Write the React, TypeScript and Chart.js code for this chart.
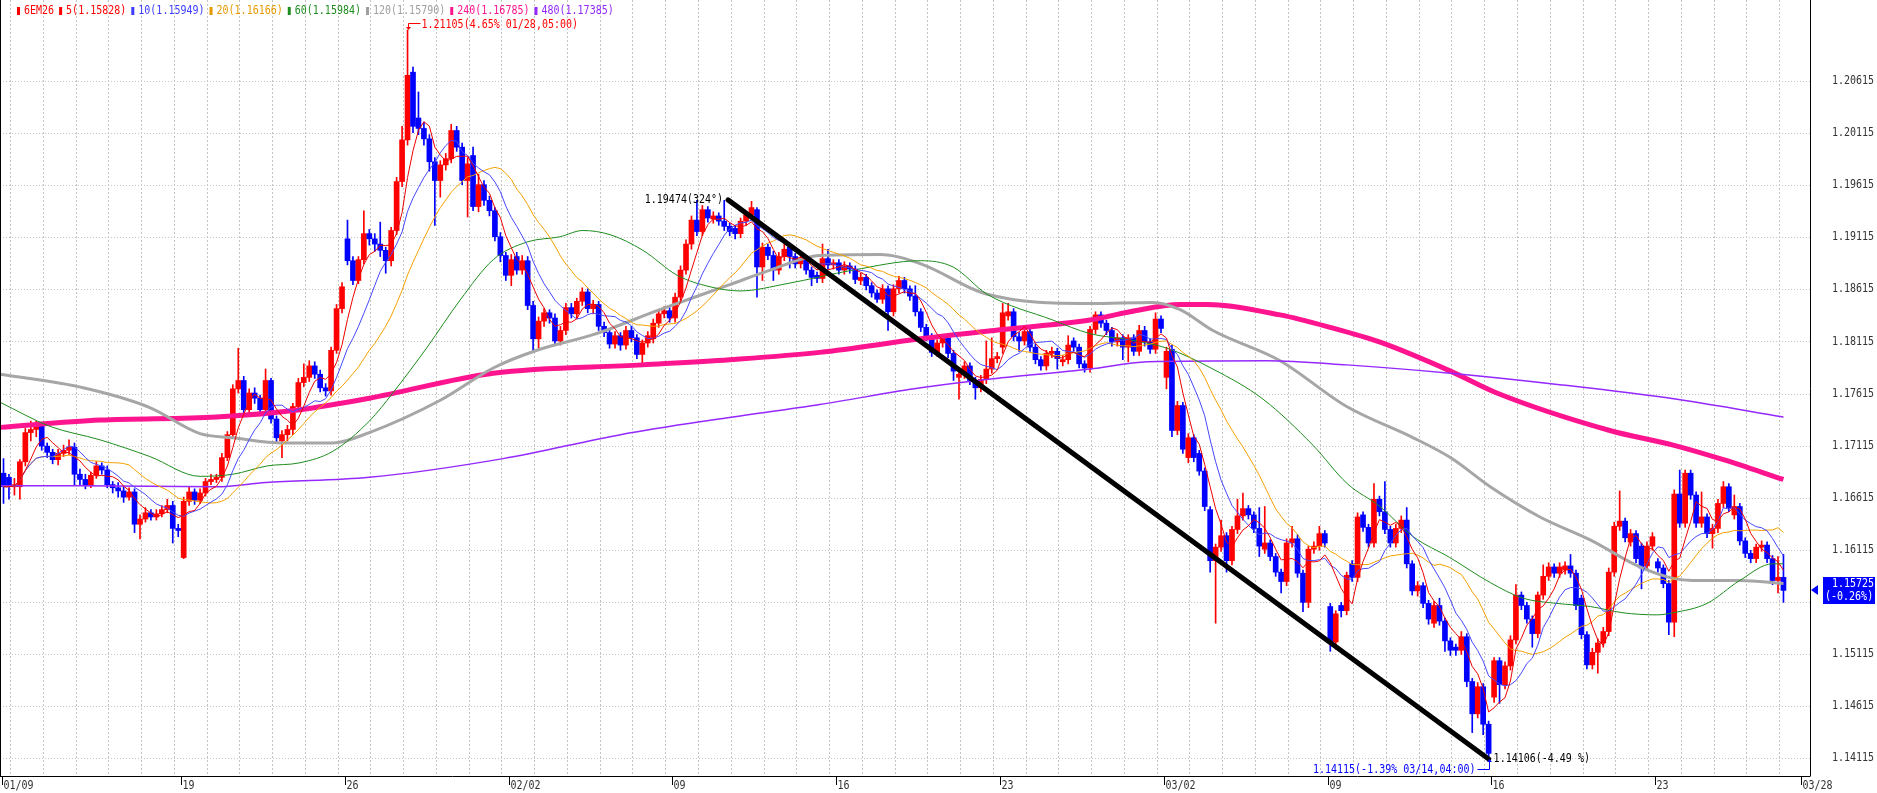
import { useEffect, useRef } from "react";
import { Chart, registerables } from "chart.js";
Chart.register(...registerables);

// ---------- DATA ----------
const symbol = "6EM26";

// 4-hour candles: [open, high, low, close]
const ohlc: [number, number, number, number][] = [
  [1.1685,1.1699,1.1656,1.1672],[1.1681,1.1684,1.1660,1.1672],[1.1672,1.1680,1.1664,1.1674],[1.1672,1.1698,1.1660,1.1696],[1.1696,1.1728,1.1692,1.1724],
  [1.1724,1.1735,1.1716,1.1727],[1.1727,1.1735,1.1720,1.1730],[1.1730,1.1734,1.1707,1.1711],[1.1711,1.1714,1.1700,1.1705],[1.1705,1.1708,1.1694,1.1698],
  [1.1698,1.1708,1.1693,1.1704],[1.1704,1.1712,1.1701,1.1707],[1.1707,1.1717,1.1703,1.1710],[1.1710,1.1714,1.1673,1.1684],[1.1684,1.1689,1.1674,1.1679],
  [1.1679,1.1684,1.1670,1.1673],[1.1673,1.1686,1.1671,1.1683],[1.1683,1.1696,1.1680,1.1692],[1.1692,1.1695,1.1684,1.1688],[1.1688,1.1692,1.1671,1.1674],
  [1.1674,1.1677,1.1666,1.1671],[1.1671,1.1676,1.1662,1.1668],[1.1668,1.1672,1.1657,1.1662],[1.1662,1.1671,1.1659,1.1667],[1.1667,1.1670,1.1628,1.1636],
  [1.1636,1.1645,1.1622,1.1641],[1.1641,1.1652,1.1638,1.1647],[1.1647,1.1650,1.1640,1.1643],[1.1643,1.1650,1.1640,1.1646],[1.1646,1.1654,1.1643,1.1650],
  [1.1650,1.1660,1.1647,1.1654],[1.1654,1.1658,1.1618,1.1632],[1.1632,1.1636,1.1624,1.1630],[1.1604,1.1662,1.1603,1.1658],[1.1658,1.1672,1.1654,1.1667],
  [1.1667,1.1670,1.1655,1.1659],[1.1659,1.1670,1.1656,1.1666],[1.1666,1.1680,1.1663,1.1677],[1.1677,1.1684,1.1674,1.1679],[1.1679,1.1684,1.1676,1.1681],
  [1.1681,1.1704,1.1677,1.1700],[1.1700,1.1725,1.1697,1.1722],[1.1722,1.1770,1.1720,1.1766],[1.1766,1.1805,1.1762,1.1774],[1.1774,1.1778,1.1742,1.1746],
  [1.1746,1.1766,1.1742,1.1762],[1.1762,1.1767,1.1752,1.1757],[1.1757,1.1760,1.1742,1.1746],[1.1746,1.1785,1.1744,1.1774],[1.1774,1.1776,1.1733,1.1737],
  [1.1737,1.1740,1.1715,1.1719],[1.1716,1.1726,1.1700,1.1722],[1.1722,1.1731,1.1716,1.1727],[1.1727,1.1752,1.1722,1.1749],[1.1749,1.1776,1.1745,1.1772],
  [1.1772,1.1790,1.1768,1.1777],[1.1777,1.1793,1.1773,1.1788],[1.1788,1.1792,1.1776,1.1780],[1.1780,1.1784,1.1763,1.1767],[1.1767,1.1771,1.1759,1.1764],
  [1.1764,1.1806,1.1760,1.1803],[1.1803,1.1847,1.1800,1.1843],[1.1843,1.1868,1.1839,1.1864],[1.1910,1.1928,1.1885,1.1889],[1.1889,1.1893,1.1866,1.1870],
  [1.1870,1.1893,1.1867,1.1890],[1.1890,1.1937,1.1886,1.1915],[1.1915,1.1919,1.1904,1.1910],[1.1910,1.1915,1.1898,1.1905],[1.1905,1.1926,1.1893,1.1899],
  [1.1899,1.1902,1.1877,1.1889],[1.1889,1.1921,1.1884,1.1918],[1.1918,1.1969,1.1914,1.1965],[1.1965,1.2018,1.1960,1.2005],[1.2005,1.21105,1.2000,1.2067],
  [1.2070,1.2075,1.2012,1.2018],[1.2026,1.2051,1.2010,1.2016],[1.2016,1.2022,1.2000,1.2006],[1.2006,1.2010,1.1975,1.1984],[1.1984,1.1988,1.1923,1.1966],
  [1.1966,1.1985,1.1950,1.1981],[1.1981,1.1992,1.1976,1.1987],[1.1987,1.2020,1.1983,1.2014],[1.2014,1.2018,1.1994,1.1998],[1.1998,1.2002,1.1962,1.1966],
  [1.1966,1.1988,1.1931,1.1982],[1.1990,1.1998,1.1937,1.1941],[1.1941,1.1972,1.1936,1.1962],[1.1962,1.1966,1.1942,1.1947],[1.1947,1.1951,1.1932,1.1937],
  [1.1937,1.1940,1.1908,1.1912],[1.1912,1.1916,1.1888,1.1894],[1.1894,1.1897,1.1870,1.1875],[1.1875,1.1895,1.1865,1.1890],[1.1893,1.1897,1.1876,1.1880],
  [1.1880,1.1894,1.1876,1.1889],[1.1889,1.1893,1.1842,1.1846],[1.1846,1.1850,1.1802,1.1814],[1.1814,1.1835,1.1804,1.1831],[1.1831,1.1843,1.1826,1.1839],
  [1.1839,1.1842,1.1829,1.1834],[1.1834,1.1838,1.1808,1.1812],[1.1812,1.1826,1.1808,1.1822],[1.1822,1.1848,1.1818,1.1844],[1.1844,1.1848,1.1834,1.1838],
  [1.1838,1.1853,1.1834,1.1850],[1.1850,1.1863,1.1846,1.1859],[1.1859,1.1862,1.1839,1.1843],[1.1843,1.1851,1.1838,1.1847],[1.1847,1.1850,1.1822,1.1826],
  [1.1826,1.1830,1.1816,1.1820],[1.1820,1.1823,1.1805,1.1809],[1.1809,1.1821,1.1805,1.1817],[1.1817,1.1820,1.1803,1.1808],[1.1808,1.1826,1.1804,1.1822],
  [1.1822,1.1826,1.1811,1.1815],[1.1815,1.1818,1.1795,1.1799],[1.1799,1.1813,1.1791,1.1810],[1.1810,1.1821,1.1806,1.1817],[1.1814,1.1833,1.1810,1.1829],
  [1.1829,1.1842,1.1825,1.1838],[1.1838,1.1845,1.1834,1.1841],[1.1841,1.1844,1.1830,1.1834],[1.1834,1.1858,1.1830,1.1854],[1.1854,1.1884,1.1850,1.1880],
  [1.1880,1.1909,1.1876,1.1905],[1.1905,1.1932,1.1900,1.1928],[1.1928,1.1947,1.1913,1.1917],[1.1917,1.1942,1.1913,1.1938],[1.1938,1.1941,1.1926,1.1930],
  [1.1929,1.1936,1.1925,1.1932],[1.1932,1.1935,1.1923,1.1927],[1.1927,1.1947,1.1918,1.1922],[1.1922,1.1925,1.1913,1.1917],[1.1920,1.1923,1.1910,1.1915],
  [1.1915,1.1930,1.1911,1.1927],[1.1927,1.1936,1.1923,1.1933],[1.1933,1.1946,1.1929,1.1940],[1.1938,1.1940,1.1854,1.1883],[1.1883,1.1906,1.1870,1.1902],
  [1.1902,1.1905,1.1890,1.1894],[1.1894,1.1898,1.1870,1.1880],[1.1880,1.1897,1.1876,1.1893],[1.1893,1.1905,1.1889,1.1900],[1.1902,1.1905,1.1882,1.1893],
  [1.1893,1.1896,1.1882,1.1886],[1.1886,1.1894,1.1882,1.1890],[1.1890,1.1893,1.1876,1.1880],[1.1880,1.1883,1.1865,1.1873],[1.1875,1.1878,1.1868,1.1872],
  [1.1872,1.1905,1.1868,1.1891],[1.1891,1.1900,1.1881,1.1885],[1.1885,1.1890,1.1881,1.1887],[1.1887,1.1890,1.1876,1.1880],[1.1880,1.1888,1.1876,1.1884],
  [1.1884,1.1887,1.1877,1.1881],[1.1881,1.1884,1.1867,1.1871],[1.1870,1.1877,1.1866,1.1873],[1.1873,1.1876,1.1861,1.1865],[1.1865,1.1868,1.1854,1.1858],
  [1.1858,1.1861,1.1849,1.1852],[1.1852,1.1866,1.1848,1.1862],[1.1862,1.1865,1.1822,1.1840],[1.1840,1.1866,1.1836,1.1862],[1.1862,1.1874,1.1858,1.1870],
  [1.1870,1.1873,1.1858,1.1862],[1.1862,1.1865,1.1851,1.1855],[1.1855,1.1865,1.1836,1.1840],[1.1840,1.1843,1.1821,1.1825],[1.1825,1.1828,1.1812,1.1816],
  [1.1816,1.1819,1.1797,1.1801],[1.1801,1.1813,1.1797,1.1810],[1.1810,1.1818,1.1806,1.1815],[1.1815,1.1818,1.1796,1.1800],[1.1800,1.1803,1.1774,1.1783],
  [1.1777,1.1784,1.1756,1.1780],[1.1780,1.1792,1.1776,1.1788],[1.1788,1.1791,1.1770,1.1774],[1.1774,1.1777,1.1756,1.1767],[1.1767,1.1779,1.1763,1.1775],
  [1.1775,1.1812,1.1771,1.1785],[1.1785,1.1815,1.1781,1.1795],[1.1795,1.1801,1.1791,1.1797],[1.1806,1.1848,1.1800,1.1839],[1.1836,1.1848,1.1832,1.1840],
  [1.1840,1.1843,1.1812,1.1816],[1.1816,1.1820,1.1802,1.1812],[1.1812,1.1825,1.1808,1.1821],[1.1821,1.1824,1.1802,1.1806],[1.1806,1.1809,1.1790,1.1794],
  [1.1794,1.1797,1.1784,1.1788],[1.1788,1.1803,1.1784,1.1800],[1.1800,1.1806,1.1796,1.1802],[1.1802,1.1805,1.1785,1.1795],[1.1792,1.1798,1.1788,1.1794],
  [1.1794,1.1817,1.1790,1.1808],[1.1812,1.1815,1.1802,1.1806],[1.1806,1.1809,1.1786,1.1790],[1.1790,1.1793,1.1782,1.1786],[1.1786,1.1826,1.1782,1.1823],
  [1.1823,1.1840,1.1819,1.1837],[1.1837,1.1840,1.1825,1.1829],[1.1829,1.1832,1.1818,1.1822],[1.1822,1.1825,1.1807,1.1811],[1.1811,1.1819,1.1807,1.1815],
  [1.1815,1.1818,1.1794,1.1806],[1.1806,1.1818,1.1792,1.1815],[1.1815,1.1818,1.1798,1.1802],[1.1802,1.1827,1.1798,1.1822],[1.1822,1.1826,1.1807,1.1811],
  [1.1811,1.1814,1.1800,1.1804],[1.1804,1.1839,1.1800,1.1833],[1.1833,1.1836,1.1820,1.1824],[1.1777,1.1806,1.1766,1.1802],[1.1804,1.1808,1.1720,1.1726],
  [1.1726,1.1754,1.1722,1.1750],[1.1750,1.1753,1.1704,1.1708],[1.1700,1.1723,1.1695,1.1719],[1.1719,1.1722,1.1696,1.1700],[1.1704,1.1707,1.1683,1.1687],
  [1.1687,1.1690,1.1649,1.1653],[1.1650,1.1653,1.1590,1.1601],[1.1601,1.1617,1.1541,1.1614],[1.1614,1.1640,1.1610,1.1625],[1.1625,1.1628,1.1590,1.1601],
  [1.1601,1.1634,1.1597,1.1631],[1.1631,1.1660,1.1627,1.1644],[1.1644,1.1666,1.1640,1.1651],[1.1651,1.1654,1.1641,1.1645],[1.1645,1.1648,1.1628,1.1632],
  [1.1632,1.1652,1.1605,1.1615],[1.1612,1.1653,1.1608,1.1618],[1.1618,1.1621,1.1601,1.1605],[1.1605,1.1608,1.1586,1.1590],[1.1590,1.1593,1.1570,1.1581],
  [1.1581,1.1622,1.1577,1.1618],[1.1618,1.1634,1.1614,1.1622],[1.1622,1.1626,1.1585,1.1589],[1.1589,1.1592,1.1552,1.1561],[1.1561,1.1615,1.1556,1.1612],
  [1.1612,1.1619,1.1608,1.1615],[1.1615,1.1634,1.1611,1.1627],[1.1627,1.1630,1.1614,1.1618],[1.1557,1.1560,1.1514,1.1523],[1.1523,1.1553,1.1516,1.1550],
  [1.1558,1.1561,1.1547,1.1553],[1.1553,1.1590,1.1549,1.1587],[1.1598,1.1601,1.1581,1.1585],[1.1585,1.1647,1.1581,1.1643],[1.1645,1.1648,1.1629,1.1633],
  [1.1633,1.1636,1.1614,1.1618],[1.1618,1.1675,1.1614,1.1660],[1.1660,1.1663,1.1644,1.1648],[1.1648,1.1677,1.1627,1.1631],[1.1631,1.1634,1.1614,1.1618],
  [1.1618,1.1636,1.1614,1.1632],[1.1632,1.1644,1.1628,1.1640],[1.1640,1.1652,1.1594,1.1598],[1.1598,1.1601,1.1568,1.1572],[1.1572,1.1581,1.1567,1.1577],
  [1.1577,1.1580,1.1556,1.1560],[1.1560,1.1563,1.1540,1.1545],[1.1541,1.1562,1.1537,1.1558],[1.1558,1.1565,1.1539,1.1543],[1.1543,1.1546,1.1514,1.1524],
  [1.1524,1.1527,1.1510,1.1515],[1.1518,1.1521,1.1510,1.1515],[1.1515,1.1533,1.1511,1.1528],[1.1528,1.1531,1.1480,1.1485],[1.1485,1.1488,1.1436,1.1454],
  [1.1454,1.1484,1.1450,1.1480],[1.1480,1.1483,1.1434,1.1444],[1.1444,1.1447,1.14106,1.1416],[1.1470,1.1508,1.1465,1.1505],[1.1505,1.1508,1.1464,1.1482],
  [1.1482,1.1504,1.1478,1.1500],[1.1500,1.1529,1.1496,1.1525],[1.1525,1.1578,1.1521,1.1568],[1.1568,1.1571,1.1554,1.1558],[1.1558,1.1561,1.1541,1.1545],
  [1.1545,1.1548,1.1518,1.1531],[1.1531,1.1571,1.1527,1.1568],[1.1568,1.1597,1.1564,1.1586],[1.1586,1.1599,1.1582,1.1595],[1.1595,1.1598,1.1585,1.1589],
  [1.1589,1.1599,1.1585,1.1595],[1.1592,1.1600,1.1588,1.1596],[1.1596,1.1607,1.1585,1.1589],[1.1589,1.1592,1.1554,1.1558],[1.1565,1.1568,1.1526,1.1530],
  [1.1530,1.1533,1.1497,1.1501],[1.1501,1.1517,1.1497,1.1513],[1.1513,1.1526,1.1493,1.1522],[1.1522,1.1537,1.1518,1.1533],[1.1533,1.1594,1.1529,1.1590],
  [1.1590,1.1638,1.1586,1.1634],[1.1634,1.1668,1.1630,1.1639],[1.1639,1.1642,1.1619,1.1623],[1.1619,1.1631,1.1615,1.1627],[1.1627,1.1630,1.1599,1.1603],
  [1.1615,1.1618,1.1574,1.1594],[1.1596,1.1619,1.1592,1.1615],[1.1615,1.1628,1.1611,1.1624],[1.1600,1.1603,1.1590,1.1594],[1.1594,1.1597,1.1575,1.1579],
  [1.1579,1.1582,1.1530,1.1542],[1.1542,1.1669,1.1528,1.1665],[1.1665,1.1688,1.1633,1.1637],[1.1637,1.1688,1.1633,1.1685],[1.1685,1.1688,1.1660,1.1664],
  [1.1664,1.1667,1.1633,1.1637],[1.1637,1.1667,1.1633,1.1643],[1.1643,1.1646,1.1623,1.1627],[1.1627,1.1636,1.1613,1.1632],[1.1632,1.1660,1.1628,1.1656],
  [1.1656,1.1677,1.1652,1.1672],[1.1672,1.1675,1.1648,1.1652],[1.1645,1.1664,1.1641,1.1653],[1.1653,1.1656,1.1616,1.1620],[1.1620,1.1623,1.1604,1.1608],
  [1.1608,1.1611,1.1599,1.1603],[1.1603,1.1617,1.1599,1.1614],[1.1614,1.1620,1.1610,1.1616],[1.1616,1.1619,1.1599,1.1603],[1.1603,1.1606,1.1578,1.1582],
  [1.1582,1.1605,1.1570,1.1585],[1.1585,1.1607,1.1561,1.15725],
];

// long moving averages: [bar index, value]
const ma60Points: [number, number][] = [
  [-0.6,1.1753],[8.5,1.1730],[17.7,1.1717],[26.8,1.1701],[36,1.1682],[42,1.1684],[48.3,1.1692],[54.3,1.1695],[60.3,1.1706],[67,1.1735],
  [71.3,1.1762],[77.6,1.1806],[83.6,1.1851],[89.7,1.1890],[95.9,1.1907],[101.9,1.1912],[106.1,1.1918],[111.1,1.1914],[117.1,1.1899],[123.4,1.1875],
  [129.4,1.1864],[134.9,1.1860],[143.5,1.1867],[155.6,1.1880],[167.9,1.1889],[173.9,1.1883],[180.1,1.1857],[192.2,1.1832],[199,1.1819],[206.3,1.1813],
  [213.1,1.1805],[221.5,1.1785],[230.7,1.1756],[239.8,1.1712],[246.1,1.1675],[252.1,1.1653],[258.2,1.1624],[264.9,1.1604],[272.3,1.1580],[278.3,1.1565],
  [284.5,1.1560],[290.6,1.1557],[296.6,1.1551],[302.8,1.1549],[305.8,1.1551],[312,1.1560],[318,1.1582],[324,1.1598],[326,1.1598],
];
const ma120Points: [number, number][] = [
  [-0.6,1.1780],[14.6,1.1767],[26.8,1.1748],[36,1.1723],[42,1.1719],[51.2,1.1714],[60.3,1.1714],[67,1.1724],[80,1.1755],[89.7,1.1786],
  [97.7,1.1803],[108,1.1818],[120.2,1.1842],[133,1.1866],[140.4,1.1880],[149.5,1.1894],[160.5,1.1895],[168,1.1886],[180,1.1857],[199,1.1848],
  [210.5,1.1849],[215.5,1.1842],[221.5,1.1822],[233.8,1.1793],[246,1.1749],[258.2,1.1719],[265,1.1700],[272.3,1.1672],[281.4,1.1643],[290.6,1.1621],
  [299.7,1.1595],[305.8,1.1584],[309.4,1.1582],[318,1.1582],[326,1.1579],
];
const ma240Points: [number, number][] = [
  [-0.6,1.1729],[17.7,1.1736],[39,1.1739],[54.3,1.1746],[67,1.1757],[89.7,1.1781],[117,1.1789],[133,1.1794],[149.5,1.1801],[168,1.1814],
  [183,1.1823],[199,1.1832],[206.3,1.1840],[215.5,1.1847],[220.4,1.1847],[233.8,1.1837],[243,1.1825],[252,1.1811],[265,1.1783],[273.5,1.1762],
  [294.2,1.1726],[305.8,1.1712],[315,1.1698],[326,1.1679],
];
const ma480Points: [number, number][] = [
  [-0.6,1.1673],[14,1.1673],[39,1.1672],[48,1.1676],[67,1.1681],[91.5,1.1699],[113,1.1722],[131,1.1737],[149.5,1.1751],[168,1.1767],
  [180,1.1775],[199,1.1785],[209.5,1.1792],[231.5,1.1793],[246,1.1789],[265,1.1781],[285,1.1770],[306.5,1.1756],[326,1.1739],
];

const maPeriods = [5, 10, 20, 60, 120, 240, 480];
const maLegendValues = ["1.15828", "1.15949", "1.16166", "1.15984", "1.15790", "1.16785", "1.17385"];

const yTickValues = [1.20615, 1.20115, 1.19615, 1.19115, 1.18615, 1.18115, 1.17615, 1.17115, 1.16615, 1.16115, 1.15615, 1.15115, 1.14615, 1.14115];
const xTickLabels = ["01/09", "19", "26", "02/02", "09", "16", "23", "03/02", "09", "16", "23", "03/28"];
const xTickBars = [-0.3, 32.5, 62.5, 92.5, 122.5, 152.5, 182.5, 212.5, 242.5, 272.5, 302.5, 329.2];

const highMark = { bar: 74, price: 1.21105, label: "1.21105(4.65% 01/28,05:00)" };
const lowMark = { bar: 272, price: 1.14106, label: "1.14115(-1.39% 03/14,04:00)" };
const trendStart = { bar: 132.7, price: 1.19474, label: "1.19474(324°)" };
const trendEnd = { bar: 272, price: 1.14106, label: "1.14106(-4.49 %)" };
const lastPrice = 1.15725;
const lastChange = "(-0.26%)";

// ---------- STYLE ----------
const UP = "#ff0000";
const DOWN = "#0000ff";
const maColors = ["#ee0000", "#4646ff", "#f5a000", "#1e8c1e", "#a6a6a6", "#ff1490", "#9428ff"];
const maWidths = [1, 1, 1, 1, 3, 5, 1.5];
const legendColors = ["#ff0000", "#3c3cff", "#e69a00", "#1e8c1e", "#a0a0a0", "#ff1490", "#9428ff"];
const FONT = '10px "DejaVu Sans Mono", "Liberation Mono", monospace';

function movingAverage(values: number[], n: number) {
  return values.map((_, i) => {
    const s = Math.max(0, i - n + 1);
    let sum = 0;
    for (let k = s; k <= i; k++) sum += values[k];
    return { x: i, y: sum / (i - s + 1) };
  });
}

function drawText(ctx: CanvasRenderingContext2D, s: string, x: number, y: number, color: string, align: CanvasTextAlign = "left") {
  ctx.save();
  ctx.translate(x, y);
  ctx.scale(1, 1.2);
  ctx.font = FONT;
  ctx.fillStyle = color;
  ctx.textAlign = align;
  ctx.textBaseline = "middle";
  ctx.fillText(s, 0, 0);
  ctx.restore();
}

function seg(ctx: CanvasRenderingContext2D, x1: number, y1: number, x2: number, y2: number) {
  ctx.beginPath();
  ctx.moveTo(x1, y1);
  ctx.lineTo(x2, y2);
  ctx.stroke();
}

const decor = {
  id: "decor",
  beforeDatasetsDraw(chart: any) {
    const { ctx, chartArea: a, scales } = chart;
    const x = scales.x, y = scales.y;
    ctx.save();
    ctx.lineWidth = 1;
    ctx.strokeStyle = "#c4c4c4";
    ctx.setLineDash([1, 2]);
    for (const v of yTickValues) {
      const py = Math.round(y.getPixelForValue(v)) + 0.5;
      seg(ctx, a.left, py, a.right, py);
    }
    ctx.setLineDash([2, 2]);
    for (let b = 1.2; b < x.max; b += 6) {
      const px = Math.round(x.getPixelForValue(b)) + 0.5;
      seg(ctx, px, a.top, px, a.bottom);
    }
    ctx.restore();
  },
  afterDatasetsDraw(chart: any) {
    const { ctx, chartArea: a, scales } = chart;
    const x = scales.x, y = scales.y;
    ctx.save();
    // borders
    ctx.strokeStyle = "#000";
    ctx.lineWidth = 1;
    seg(ctx, a.left + 0.5, a.top, a.left + 0.5, a.bottom);
    seg(ctx, Math.round(a.right) + 0.5, a.top, Math.round(a.right) + 0.5, a.bottom + 0.5);
    seg(ctx, a.left, Math.round(a.bottom) + 0.5, a.right, Math.round(a.bottom) + 0.5);

    // y labels
    const pyLast = y.getPixelForValue(lastPrice);
    for (const v of yTickValues) {
      const py = y.getPixelForValue(v);
      if (Math.abs(py - pyLast) < 16) continue;
      drawText(ctx, v.toFixed(5), a.right + 22, py, "#333");
    }
    // x labels
    xTickLabels.forEach((lab, i) => {
      const px = Math.round(x.getPixelForValue(xTickBars[i])) + 0.5;
      ctx.strokeStyle = "#000";
      seg(ctx, px, a.bottom, px, a.bottom + 9);
      drawText(ctx, lab, px + 1, a.bottom + 10, "#333");
    });

    // legend
    let lx = 17;
    const items = [{ t: symbol, c: legendColors[0] }].concat(
      maPeriods.map((p, i) => ({ t: `${p}(${maLegendValues[i]})`, c: legendColors[i] }))
    );
    ctx.font = FONT;
    for (const it of items) {
      ctx.fillStyle = it.c;
      ctx.fillRect(lx, 7, 3, 8);
      drawText(ctx, it.t, lx + 7, 11, it.c);
      lx += 7 + ctx.measureText(it.t).width + 5;
    }

    // high marker
    const hx = Math.round(x.getPixelForValue(highMark.bar)) + 0.5;
    const hy = y.getPixelForValue(highMark.price);
    const hly = Math.round(hy - 7) + 0.5;
    ctx.strokeStyle = "#ff0000";
    seg(ctx, hx, hly, hx + 12, hly);
    seg(ctx, hx, hly, hx, hy - 1);
    ctx.fillStyle = "#ff0000";
    ctx.beginPath();
    ctx.moveTo(hx - 2.5, hy - 3); ctx.lineTo(hx + 2.5, hy - 3); ctx.lineTo(hx, hy); ctx.closePath(); ctx.fill();
    drawText(ctx, highMark.label, hx + 13, hly + 1, "#ff0000");

    // low marker
    const lpx = Math.round(x.getPixelForValue(lowMark.bar)) + 0.5;
    const lpy = y.getPixelForValue(lowMark.price);
    const lly = Math.round(lpy + 10) + 0.5;
    ctx.strokeStyle = "#0000ff";
    seg(ctx, lpx - 12, lly, lpx, lly);
    seg(ctx, lpx, lly, lpx, lpy + 1);
    ctx.fillStyle = "#0000ff";
    ctx.beginPath();
    ctx.moveTo(lpx - 2.5, lpy + 3); ctx.lineTo(lpx + 2.5, lpy + 3); ctx.lineTo(lpx, lpy); ctx.closePath(); ctx.fill();
    drawText(ctx, lowMark.label, lpx - 14, lly, "#0000ff", "right");

    // trend labels
    drawText(ctx, trendStart.label, x.getPixelForValue(trendStart.bar) - 5, y.getPixelForValue(trendStart.price), "#000", "right");
    drawText(ctx, trendEnd.label, x.getPixelForValue(trendEnd.bar) + 5, y.getPixelForValue(trendEnd.price), "#000");

    // current price tag
    const by = Math.round(pyLast);
    ctx.fillStyle = "#0000ff";
    ctx.beginPath();
    ctx.moveTo(a.right + 1, by); ctx.lineTo(a.right + 8, by - 5); ctx.lineTo(a.right + 8, by + 5); ctx.closePath(); ctx.fill();
    ctx.fillRect(a.right + 13, by - 13, 52, 27);
    drawText(ctx, lastPrice.toFixed(5), a.right + 22, by - 6, "#fff");
    drawText(ctx, lastChange, a.right + 15, by + 7, "#fff");
    ctx.restore();
  },
};

export default function App() {
  const ref = useRef<HTMLCanvasElement | null>(null);

  useEffect(() => {
    const canvas = ref.current;
    if (!canvas) return;
    const closes = ohlc.map((d) => d[3]);
    const colors = ohlc.map(([o, , , c]) => (c >= o ? UP : DOWN));
    const computed = [5, 10, 20].map((n) => movingAverage(closes, n));
    const sparse = [ma60Points, ma120Points, ma240Points, ma480Points].map((pts) => pts.map(([bx, v]) => ({ x: bx, y: v })));

    const lineDs = (data: any[], i: number, order: number, smooth: boolean) => ({
      type: "line" as const,
      data,
      borderColor: maColors[i],
      backgroundColor: maColors[i],
      borderWidth: maWidths[i],
      pointRadius: 0,
      tension: 0,
      cubicInterpolationMode: smooth ? ("monotone" as const) : ("default" as const),
      order,
    });

    const chart = new Chart(canvas, {
      type: "bar",
      data: {
        datasets: [
          {
            type: "line",
            data: [
              { x: trendStart.bar, y: trendStart.price },
              { x: trendEnd.bar, y: trendEnd.price },
            ],
            borderColor: "#000",
            borderWidth: 5,
            borderCapStyle: "round",
            pointRadius: 0,
            order: 0,
          } as any,
          lineDs(computed[0], 0, 1, false),
          lineDs(computed[1], 1, 2, false),
          lineDs(computed[2], 2, 3, false),
          lineDs(sparse[0], 3, 4, true),
          lineDs(sparse[3], 6, 5, true),
          lineDs(sparse[1], 4, 6, true),
          lineDs(sparse[2], 5, 7, true),
          {
            type: "bar",
            data: ohlc.map(([o, , , c], i) => ({ x: i, y: [o, c] })),
            backgroundColor: colors,
            borderWidth: 0,
            barThickness: 5,
            minBarLength: 1,
            grouped: false,
            order: 20,
          } as any,
          {
            type: "bar",
            data: ohlc.map(([, h, l], i) => ({ x: i, y: [l, h] })),
            backgroundColor: colors,
            borderWidth: 0,
            barThickness: 1,
            grouped: false,
            order: 21,
          } as any,
        ],
      },
      options: {
        responsive: false,
        maintainAspectRatio: false,
        animation: false,
        devicePixelRatio: 1,
        events: [],
        layout: { padding: { left: 0, top: 0, right: 67, bottom: 17 } },
        scales: {
          x: { type: "linear", min: -0.641, max: 330.86, offset: false, display: false },
          y: { type: "linear", min: 1.13943, max: 1.21393, beginAtZero: false, display: false },
        },
        plugins: { legend: { display: false }, tooltip: { enabled: false } },
      },
      plugins: [decor],
    } as any);
    return () => chart.destroy();
  }, []);

  return (
    <div style={{ position: "fixed", left: 0, top: 0, width: 1877, height: 793, background: "#fff" }}>
      <canvas ref={ref} width={1877} height={793} style={{ display: "block", width: 1877, height: 793 }} />
    </div>
  );
}
